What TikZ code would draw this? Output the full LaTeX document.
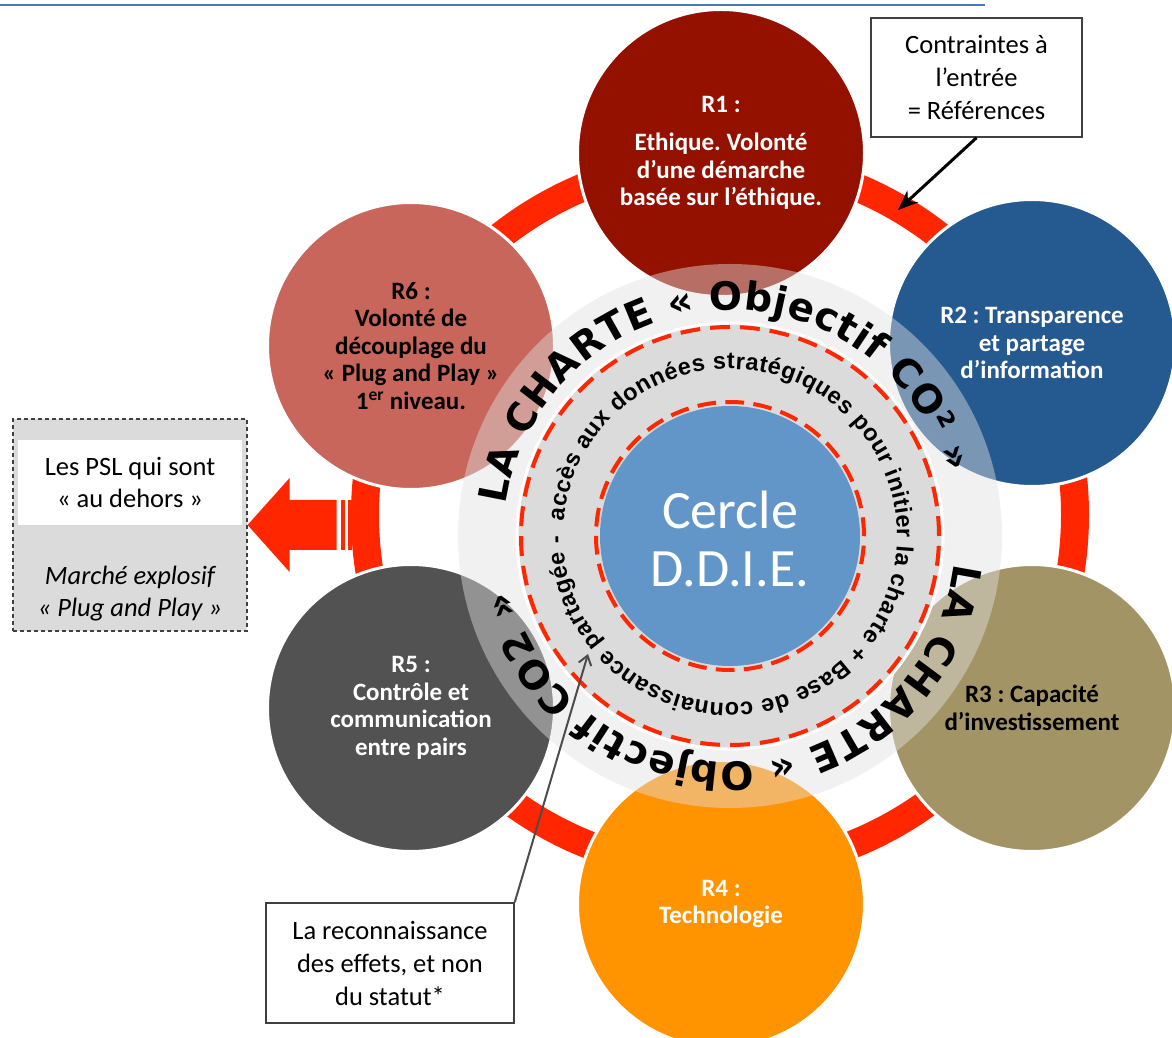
\documentclass[tikz,border=0pt]{standalone}
\usepackage{fontspec}
\setmainfont{Carlito}
\newfontfamily\chartefont{DejaVu Sans}
\newfontfamily\accesfont{Liberation Sans}
\usetikzlibrary{decorations.text,arrows.meta}
\frenchspacing

\definecolor{rouge}{RGB}{255,38,0}
\definecolor{rone}{RGB}{148,17,0}
\definecolor{rtwo}{RGB}{37,90,145}
\definecolor{rthree}{RGB}{163,148,102}
\definecolor{rfour}{RGB}{255,147,0}
\definecolor{rfive}{RGB}{82,82,82}
\definecolor{rsix}{RGB}{200,102,91}
\definecolor{ddie}{RGB}{98,150,200}
\definecolor{lien}{RGB}{70,120,190}

\begin{document}
\begin{tikzpicture}[x=1pt,y=1pt,
  pilier/.style={circle,draw=white,line width=3pt,minimum size=287pt,inner sep=0pt,align=center,
    font=\bfseries\fontsize{25}{27.5}\selectfont},
  encadre/.style={draw=black!75,line width=1.5pt,fill=white,align=center,
    font=\fontsize{26.5}{33}\selectfont},
  tirets/.style={rouge,line width=4pt}]
\useasboundingbox (0,0) rectangle (1172,1037);
\draw[lien,line width=1.5pt] (0,1032)--(985,1032);
\draw[rouge,line width=28pt] (720,522) circle[radius=355];

\node[pilier,fill=rone,text=white] (r1) at (721,884) {R1 :\\[11pt]Ethique. Volonté\\d’une démarche\\basée sur l’éthique.};
\node[pilier,fill=rtwo,text=white] (r2) at (1032,694) {R2 : Transparence\\et partage\\d’information};
\node[pilier,fill=rthree,text=black] (r3) at (1032,329) {R3 : Capacité\\d’investissement};
\node[pilier,fill=rfour,text=white] (r4) at (721,133) {R4 :\\Technologie};
\node[pilier,fill=rfive,text=white] (r5) at (411,329) {R5 :\\Contrôle et\\communication\\entre pairs};
\node[pilier,fill=rsix,text=black] (r6) at (411,691) {R6 :\\Volonté de\\découplage du\\« Plug and Play »\\1\textsuperscript{er} niveau.};

\fill[black!12,opacity=0.45] (730,501) circle[radius=272];
\filldraw[fill=black!14,draw=white,line width=3pt] (730,501) circle[radius=213];
\fill[ddie] (730,501) circle[radius=130];
\foreach \r/\on/\off in {209/19.9/9.95,134/18.7/9.36}{
  \draw[tirets,dash pattern=on \on pt off \off pt] (730,501) circle[radius=\r];}
\node[text=white,align=center,font=\fontsize{54}{58}\selectfont] (cercle) at (730,498) {Cercle\\D.D.I.E.};

\begin{scope}[shift={(730,501)}]
\path[decorate,decoration={text along path,text align={fit to path},
  text={|\chartefont\bfseries\fontsize{39}{39}\selectfont|LA CHARTE « Objectif CO² »}}]
  (172:226) arc[start angle=172,end angle=16,radius=226];
\path[decorate,decoration={text along path,text align={fit to path},
  text={|\chartefont\bfseries\fontsize{39}{39}\selectfont|LA CHARTE « Objectif CO2 »}}]
  (-7:226) arc[start angle=-7,end angle=-166,radius=226];
\path[decorate,decoration={text along path,text align={fit to path},
  text={|\accesfont\bfseries\fontsize{23.5}{23.5}\selectfont|accès aux données stratégiques pour initier la charte + Base de connaissance partagée -}}]
  (175:167) arc[start angle=175,end angle=-180,radius=167];
\end{scope}

\node[encadre,minimum width=211pt,minimum height=119pt] (contraintes) at (976.5,959.5) {Contraintes à\\l’entrée\\= Références};
\coordinate (entree) at (898,827);
\draw[line width=3pt,-{Stealth[length=20pt,width=16pt]}] (contraintes.south) -- (entree);

\node[encadre,minimum width=248pt,minimum height=120pt] (reconnaissance) at (390,74) {La reconnaissance\\des effets, et non\\du statut*};
\coordinate (partagee) at (588,383);
\draw[black!70,line width=2pt,-{Straight Barb[length=9pt,width=13pt]}] (reconnaissance.north east) -- (partagee);

\node[draw=black!75,line width=1.2pt,dash pattern=on 4pt off 3pt,fill=black!14,minimum width=234pt,minimum height=212pt] (exterieur) at (130,512) {};
\node[fill=white,minimum width=224pt,minimum height=85pt,align=center,font=\fontsize{26.5}{32}\selectfont] (psl) at (130,554.5) {Les PSL qui sont\\« au dehors »};
\node[align=center,font=\itshape\fontsize{26.5}{32}\selectfont] (marche) at (130,443) {Marché explosif\\« Plug and Play »};
\fill[rouge] (exterieur.east) -- ++(42,47) -- ++(0,-22) -- ++(47,0) -- ++(0,-50) -- ++(-47,0) -- ++(0,-22) -- cycle;
\fill[rouge] (340.5,487) rectangle (344.5,537);
\fill[rouge] (348,487) rectangle (351.5,537);
\end{tikzpicture}
\end{document}
